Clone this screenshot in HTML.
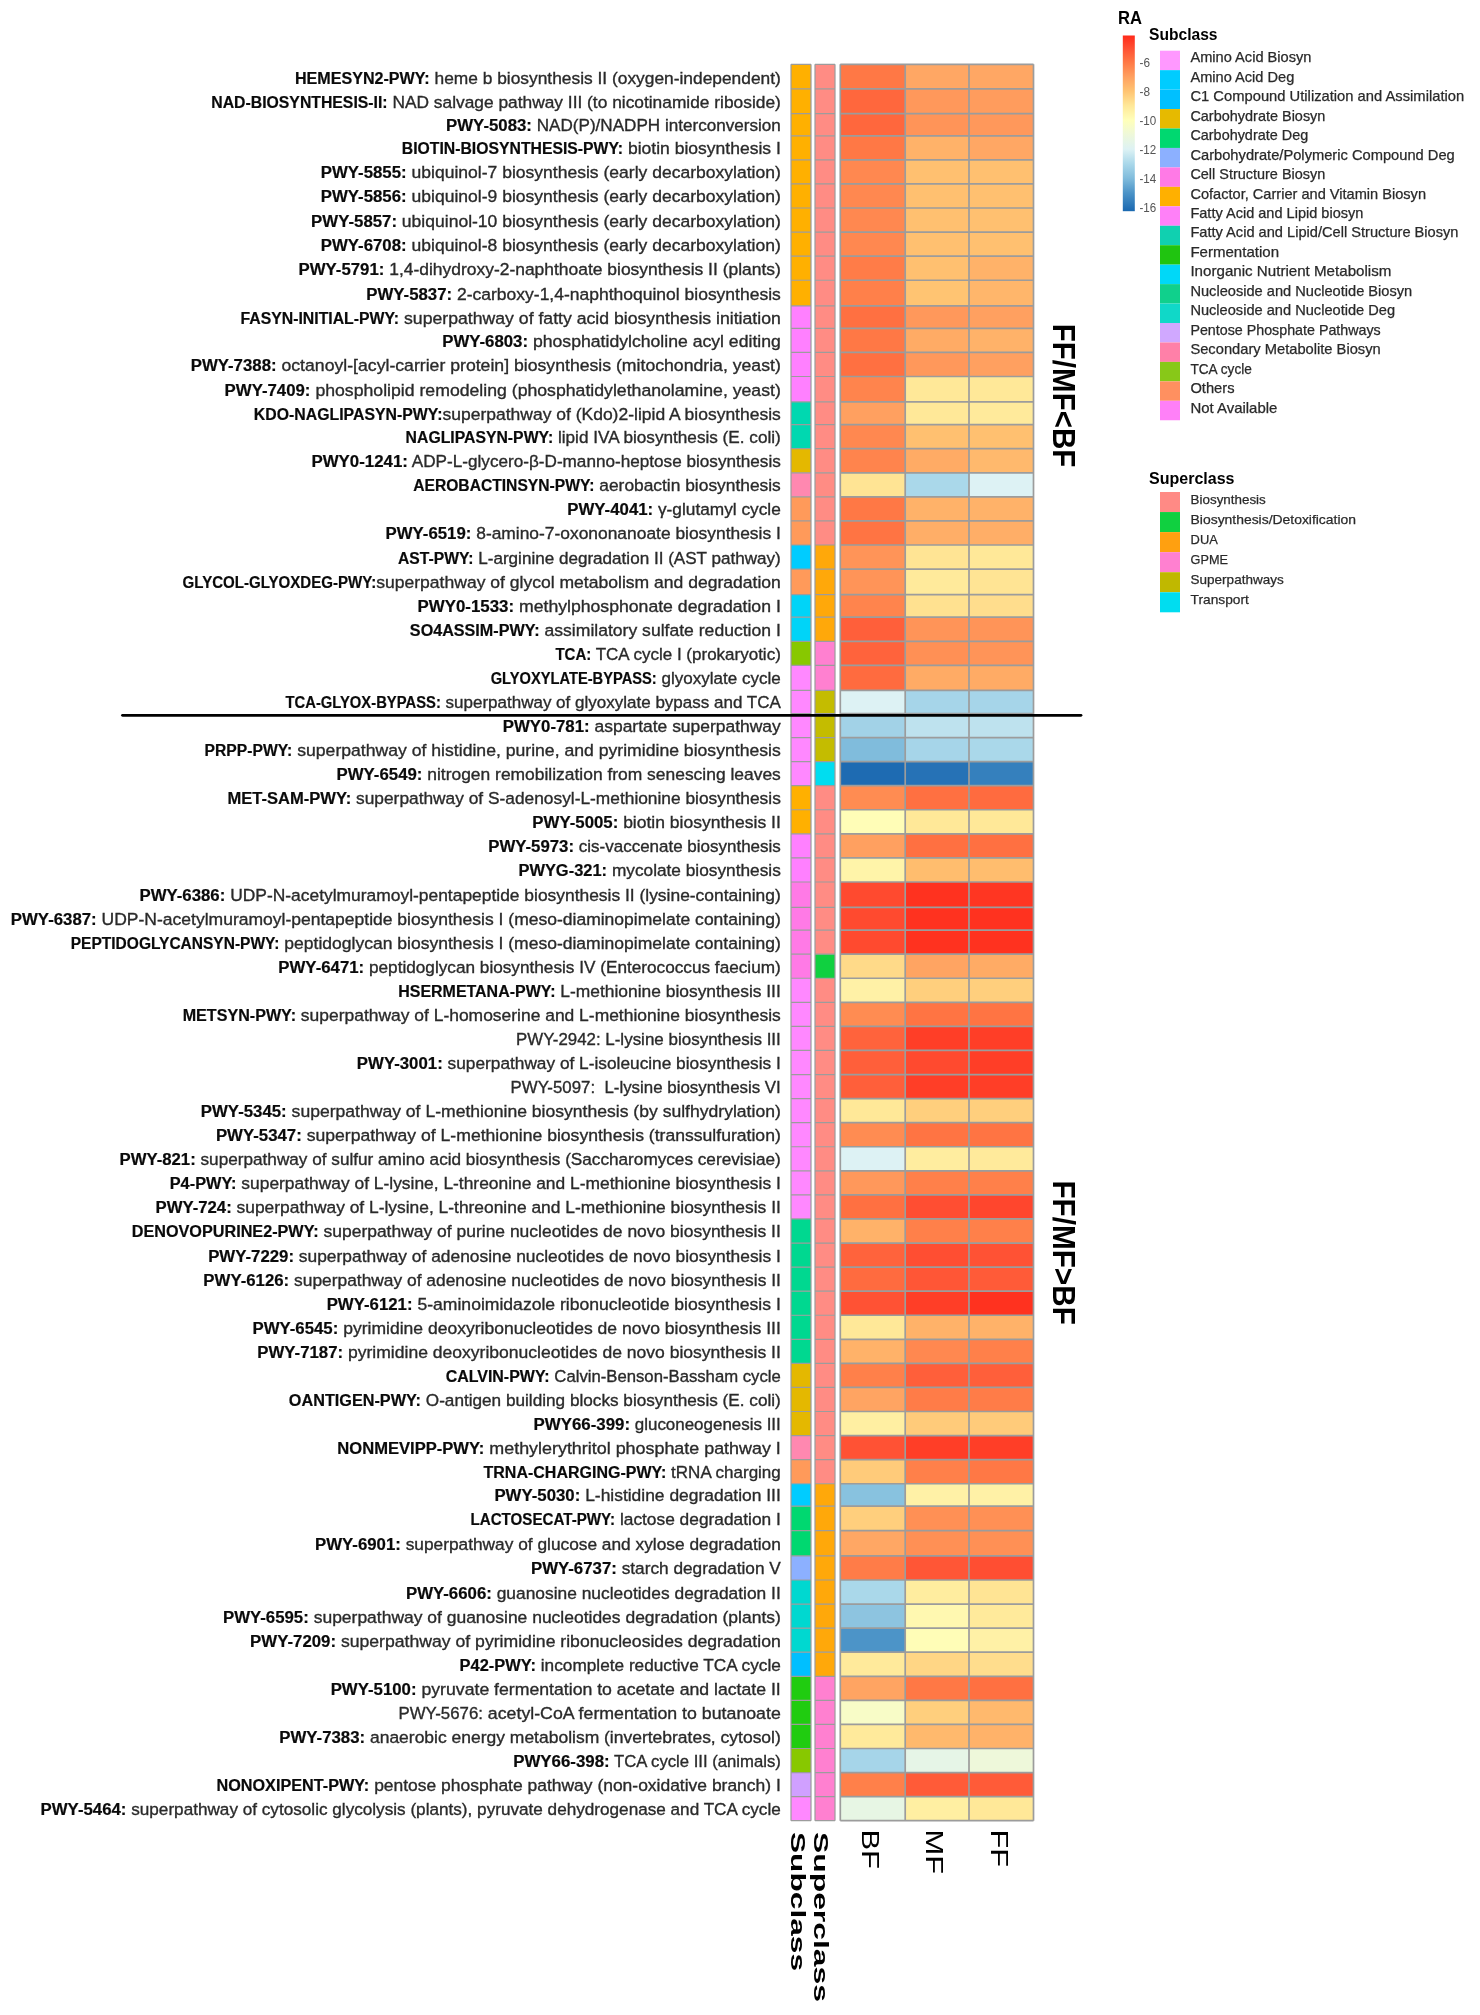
<!DOCTYPE html><html><head><meta charset="utf-8"><style>html,body{margin:0;padding:0;background:#fff}svg{display:block;filter:blur(0.6px)}text{font-family:"Liberation Sans",sans-serif;white-space:pre}</style></head><body>
<svg width="1480" height="2015" viewBox="0 0 1480 2015">
<rect x="0" y="0" width="1480" height="2015" fill="#fff"/>
<g font-size="17.4" fill="#2a2a2a" stroke="#2a2a2a" stroke-width="0.35" text-anchor="end">
<text x="780.8" y="83.99" textLength="351.14" lengthAdjust="spacingAndGlyphs"> heme b biosynthesis II (oxygen-independent)</text>
<text x="429.66" y="83.99" font-weight="bold" fill="#0a0a0a" stroke="#0a0a0a" stroke-width="0.2" textLength="134.74" lengthAdjust="spacingAndGlyphs">HEMESYN2-PWY:</text>
<text x="780.8" y="107.71" textLength="393.19" lengthAdjust="spacingAndGlyphs"> NAD salvage pathway III (to nicotinamide riboside)</text>
<text x="387.61" y="107.71" font-weight="bold" fill="#0a0a0a" stroke="#0a0a0a" stroke-width="0.2" textLength="176.29" lengthAdjust="spacingAndGlyphs">NAD-BIOSYNTHESIS-II:</text>
<text x="780.8" y="131.18" textLength="248.84" lengthAdjust="spacingAndGlyphs"> NAD(P)/NADPH interconversion</text>
<text x="531.96" y="131.18" font-weight="bold" fill="#0a0a0a" stroke="#0a0a0a" stroke-width="0.2" textLength="85.9" lengthAdjust="spacingAndGlyphs">PWY-5083:</text>
<text x="780.8" y="154.34" textLength="157.73" lengthAdjust="spacingAndGlyphs"> biotin biosynthesis I</text>
<text x="623.07" y="154.34" font-weight="bold" fill="#0a0a0a" stroke="#0a0a0a" stroke-width="0.2" textLength="221.25" lengthAdjust="spacingAndGlyphs">BIOTIN-BIOSYNTHESIS-PWY:</text>
<text x="780.8" y="178.41" textLength="374.14" lengthAdjust="spacingAndGlyphs"> ubiquinol-7 biosynthesis (early decarboxylation)</text>
<text x="406.66" y="178.41" font-weight="bold" fill="#0a0a0a" stroke="#0a0a0a" stroke-width="0.2" textLength="85.9" lengthAdjust="spacingAndGlyphs">PWY-5855:</text>
<text x="780.8" y="202.49" textLength="374.14" lengthAdjust="spacingAndGlyphs"> ubiquinol-9 biosynthesis (early decarboxylation)</text>
<text x="406.66" y="202.49" font-weight="bold" fill="#0a0a0a" stroke="#0a0a0a" stroke-width="0.2" textLength="85.9" lengthAdjust="spacingAndGlyphs">PWY-5856:</text>
<text x="780.8" y="226.56" textLength="383.79" lengthAdjust="spacingAndGlyphs"> ubiquinol-10 biosynthesis (early decarboxylation)</text>
<text x="397.01" y="226.56" font-weight="bold" fill="#0a0a0a" stroke="#0a0a0a" stroke-width="0.2" textLength="85.9" lengthAdjust="spacingAndGlyphs">PWY-5857:</text>
<text x="780.8" y="250.62" textLength="374.14" lengthAdjust="spacingAndGlyphs"> ubiquinol-8 biosynthesis (early decarboxylation)</text>
<text x="406.66" y="250.62" font-weight="bold" fill="#0a0a0a" stroke="#0a0a0a" stroke-width="0.2" textLength="85.9" lengthAdjust="spacingAndGlyphs">PWY-6708:</text>
<text x="780.8" y="274.7" textLength="396.4" lengthAdjust="spacingAndGlyphs"> 1,4-dihydroxy-2-naphthoate biosynthesis II (plants)</text>
<text x="384.4" y="274.7" font-weight="bold" fill="#0a0a0a" stroke="#0a0a0a" stroke-width="0.2" textLength="85.9" lengthAdjust="spacingAndGlyphs">PWY-5791:</text>
<text x="780.8" y="299.57" textLength="328.64" lengthAdjust="spacingAndGlyphs"> 2-carboxy-1,4-naphthoquinol biosynthesis</text>
<text x="452.16" y="299.57" font-weight="bold" fill="#0a0a0a" stroke="#0a0a0a" stroke-width="0.2" textLength="85.9" lengthAdjust="spacingAndGlyphs">PWY-5837:</text>
<text x="780.8" y="323.63" textLength="381.67" lengthAdjust="spacingAndGlyphs"> superpathway of fatty acid biosynthesis initiation</text>
<text x="399.13" y="323.63" font-weight="bold" fill="#0a0a0a" stroke="#0a0a0a" stroke-width="0.2" textLength="158.65" lengthAdjust="spacingAndGlyphs">FASYN-INITIAL-PWY:</text>
<text x="780.8" y="346.91" textLength="252.72" lengthAdjust="spacingAndGlyphs"> phosphatidylcholine acyl editing</text>
<text x="528.08" y="346.91" font-weight="bold" fill="#0a0a0a" stroke="#0a0a0a" stroke-width="0.2" textLength="85.9" lengthAdjust="spacingAndGlyphs">PWY-6803:</text>
<text x="780.8" y="370.98" textLength="504.21" lengthAdjust="spacingAndGlyphs"> octanoyl-[acyl-carrier protein] biosynthesis (mitochondria, yeast)</text>
<text x="276.59" y="370.98" font-weight="bold" fill="#0a0a0a" stroke="#0a0a0a" stroke-width="0.2" textLength="85.9" lengthAdjust="spacingAndGlyphs">PWY-7388:</text>
<text x="780.8" y="395.7" textLength="470.31" lengthAdjust="spacingAndGlyphs"> phospholipid remodeling (phosphatidylethanolamine, yeast)</text>
<text x="310.49" y="395.7" font-weight="bold" fill="#0a0a0a" stroke="#0a0a0a" stroke-width="0.2" textLength="85.9" lengthAdjust="spacingAndGlyphs">PWY-7409:</text>
<text x="780.8" y="419.77" textLength="338.3" lengthAdjust="spacingAndGlyphs">superpathway of (Kdo)2-lipid A biosynthesis</text>
<text x="442.5" y="419.77" font-weight="bold" fill="#0a0a0a" stroke="#0a0a0a" stroke-width="0.2" textLength="188.63" lengthAdjust="spacingAndGlyphs">KDO-NAGLIPASYN-PWY:</text>
<text x="780.8" y="443.19" textLength="227.65" lengthAdjust="spacingAndGlyphs"> lipid IVA biosynthesis (E. coli)</text>
<text x="553.15" y="443.19" font-weight="bold" fill="#0a0a0a" stroke="#0a0a0a" stroke-width="0.2" textLength="147.53" lengthAdjust="spacingAndGlyphs">NAGLIPASYN-PWY:</text>
<text x="780.8" y="467.25" textLength="372.83" lengthAdjust="spacingAndGlyphs"> ADP-L-glycero-β-D-manno-heptose biosynthesis</text>
<text x="407.97" y="467.25" font-weight="bold" fill="#0a0a0a" stroke="#0a0a0a" stroke-width="0.2" textLength="96.56" lengthAdjust="spacingAndGlyphs">PWY0-1241:</text>
<text x="780.8" y="491.33" textLength="186.34" lengthAdjust="spacingAndGlyphs"> aerobactin biosynthesis</text>
<text x="594.46" y="491.33" font-weight="bold" fill="#0a0a0a" stroke="#0a0a0a" stroke-width="0.2" textLength="181.28" lengthAdjust="spacingAndGlyphs">AEROBACTINSYN-PWY:</text>
<text x="780.8" y="515.39" textLength="127.63" lengthAdjust="spacingAndGlyphs"> γ-glutamyl cycle</text>
<text x="653.17" y="515.39" font-weight="bold" fill="#0a0a0a" stroke="#0a0a0a" stroke-width="0.2" textLength="85.9" lengthAdjust="spacingAndGlyphs">PWY-4041:</text>
<text x="780.8" y="539.46" textLength="309.41" lengthAdjust="spacingAndGlyphs"> 8-amino-7-oxononanoate biosynthesis I</text>
<text x="471.39" y="539.46" font-weight="bold" fill="#0a0a0a" stroke="#0a0a0a" stroke-width="0.2" textLength="85.9" lengthAdjust="spacingAndGlyphs">PWY-6519:</text>
<text x="780.8" y="563.54" textLength="307.32" lengthAdjust="spacingAndGlyphs"> L-arginine degradation II (AST pathway)</text>
<text x="473.48" y="563.54" font-weight="bold" fill="#0a0a0a" stroke="#0a0a0a" stroke-width="0.2" textLength="75.49" lengthAdjust="spacingAndGlyphs">AST-PWY:</text>
<text x="780.8" y="588.31" textLength="404.54" lengthAdjust="spacingAndGlyphs">superpathway of glycol metabolism and degradation</text>
<text x="376.26" y="588.31" font-weight="bold" fill="#0a0a0a" stroke="#0a0a0a" stroke-width="0.2" textLength="193.65" lengthAdjust="spacingAndGlyphs">GLYCOL-GLYOXDEG-PWY:</text>
<text x="780.8" y="612.38" textLength="266.71" lengthAdjust="spacingAndGlyphs"> methylphosphonate degradation I</text>
<text x="514.09" y="612.38" font-weight="bold" fill="#0a0a0a" stroke="#0a0a0a" stroke-width="0.2" textLength="96.56" lengthAdjust="spacingAndGlyphs">PWY0-1533:</text>
<text x="780.8" y="635.75" textLength="241.17" lengthAdjust="spacingAndGlyphs"> assimilatory sulfate reduction I</text>
<text x="539.63" y="635.75" font-weight="bold" fill="#0a0a0a" stroke="#0a0a0a" stroke-width="0.2" textLength="129.76" lengthAdjust="spacingAndGlyphs">SO4ASSIM-PWY:</text>
<text x="780.8" y="659.82" textLength="189.49" lengthAdjust="spacingAndGlyphs"> TCA cycle I (prokaryotic)</text>
<text x="591.31" y="659.82" font-weight="bold" fill="#0a0a0a" stroke="#0a0a0a" stroke-width="0.2" textLength="35.86" lengthAdjust="spacingAndGlyphs">TCA:</text>
<text x="780.8" y="684.38" textLength="124.09" lengthAdjust="spacingAndGlyphs"> glyoxylate cycle</text>
<text x="656.71" y="684.38" font-weight="bold" fill="#0a0a0a" stroke="#0a0a0a" stroke-width="0.2" textLength="166.02" lengthAdjust="spacingAndGlyphs">GLYOXYLATE-BYPASS:</text>
<text x="780.8" y="708.46" textLength="339.99" lengthAdjust="spacingAndGlyphs"> superpathway of glyoxylate bypass and TCA</text>
<text x="440.81" y="708.46" font-weight="bold" fill="#0a0a0a" stroke="#0a0a0a" stroke-width="0.2" textLength="155.31" lengthAdjust="spacingAndGlyphs">TCA-GLYOX-BYPASS:</text>
<text x="780.8" y="732.03" textLength="191.12" lengthAdjust="spacingAndGlyphs"> aspartate superpathway</text>
<text x="589.68" y="732.03" font-weight="bold" fill="#0a0a0a" stroke="#0a0a0a" stroke-width="0.2" textLength="86.92" lengthAdjust="spacingAndGlyphs">PWY0-781:</text>
<text x="780.8" y="756.1" textLength="488.5" lengthAdjust="spacingAndGlyphs"> superpathway of histidine, purine, and pyrimidine biosynthesis</text>
<text x="292.3" y="756.1" font-weight="bold" fill="#0a0a0a" stroke="#0a0a0a" stroke-width="0.2" textLength="87.71" lengthAdjust="spacingAndGlyphs">PRPP-PWY:</text>
<text x="780.8" y="780.16" textLength="358.36" lengthAdjust="spacingAndGlyphs"> nitrogen remobilization from senescing leaves</text>
<text x="422.44" y="780.16" font-weight="bold" fill="#0a0a0a" stroke="#0a0a0a" stroke-width="0.2" textLength="85.9" lengthAdjust="spacingAndGlyphs">PWY-6549:</text>
<text x="780.8" y="804.24" textLength="429.58" lengthAdjust="spacingAndGlyphs"> superpathway of S-adenosyl-L-methionine biosynthesis</text>
<text x="351.22" y="804.24" font-weight="bold" fill="#0a0a0a" stroke="#0a0a0a" stroke-width="0.2" textLength="123.82" lengthAdjust="spacingAndGlyphs">MET-SAM-PWY:</text>
<text x="780.8" y="828.31" textLength="162.53" lengthAdjust="spacingAndGlyphs"> biotin biosynthesis II</text>
<text x="618.27" y="828.31" font-weight="bold" fill="#0a0a0a" stroke="#0a0a0a" stroke-width="0.2" textLength="85.9" lengthAdjust="spacingAndGlyphs">PWY-5005:</text>
<text x="780.8" y="852.38" textLength="206.72" lengthAdjust="spacingAndGlyphs"> cis-vaccenate biosynthesis</text>
<text x="574.08" y="852.38" font-weight="bold" fill="#0a0a0a" stroke="#0a0a0a" stroke-width="0.2" textLength="85.9" lengthAdjust="spacingAndGlyphs">PWY-5973:</text>
<text x="780.8" y="876.45" textLength="173.72" lengthAdjust="spacingAndGlyphs"> mycolate biosynthesis</text>
<text x="607.08" y="876.45" font-weight="bold" fill="#0a0a0a" stroke="#0a0a0a" stroke-width="0.2" textLength="88.66" lengthAdjust="spacingAndGlyphs">PWYG-321:</text>
<text x="780.8" y="901.22" textLength="555.47" lengthAdjust="spacingAndGlyphs"> UDP-N-acetylmuramoyl-pentapeptide biosynthesis II (lysine-containing)</text>
<text x="225.33" y="901.22" font-weight="bold" fill="#0a0a0a" stroke="#0a0a0a" stroke-width="0.2" textLength="85.9" lengthAdjust="spacingAndGlyphs">PWY-6386:</text>
<text x="780.8" y="925.29" textLength="684.1" lengthAdjust="spacingAndGlyphs"> UDP-N-acetylmuramoyl-pentapeptide biosynthesis I (meso-diaminopimelate containing)</text>
<text x="96.7" y="925.29" font-weight="bold" fill="#0a0a0a" stroke="#0a0a0a" stroke-width="0.2" textLength="85.9" lengthAdjust="spacingAndGlyphs">PWY-6387:</text>
<text x="780.8" y="948.65" textLength="501.32" lengthAdjust="spacingAndGlyphs"> peptidoglycan biosynthesis I (meso-diaminopimelate containing)</text>
<text x="279.48" y="948.65" font-weight="bold" fill="#0a0a0a" stroke="#0a0a0a" stroke-width="0.2" textLength="208.71" lengthAdjust="spacingAndGlyphs">PEPTIDOGLYCANSYN-PWY:</text>
<text x="780.8" y="972.73" textLength="416.6" lengthAdjust="spacingAndGlyphs"> peptidoglycan biosynthesis IV (Enterococcus faecium)</text>
<text x="364.2" y="972.73" font-weight="bold" fill="#0a0a0a" stroke="#0a0a0a" stroke-width="0.2" textLength="85.9" lengthAdjust="spacingAndGlyphs">PWY-6471:</text>
<text x="780.8" y="996.8" textLength="225.32" lengthAdjust="spacingAndGlyphs"> L-methionine biosynthesis III</text>
<text x="555.48" y="996.8" font-weight="bold" fill="#0a0a0a" stroke="#0a0a0a" stroke-width="0.2" textLength="157.23" lengthAdjust="spacingAndGlyphs">HSERMETANA-PWY:</text>
<text x="780.8" y="1020.87" textLength="484.77" lengthAdjust="spacingAndGlyphs"> superpathway of L-homoserine and L-methionine biosynthesis</text>
<text x="296.03" y="1020.87" font-weight="bold" fill="#0a0a0a" stroke="#0a0a0a" stroke-width="0.2" textLength="113.33" lengthAdjust="spacingAndGlyphs">METSYN-PWY:</text>
<text x="780.8" y="1044.93" textLength="180.23" lengthAdjust="spacingAndGlyphs"> L-lysine biosynthesis III</text>
<text x="600.57" y="1044.93" textLength="84.45" lengthAdjust="spacingAndGlyphs">PWY-2942:</text>
<text x="780.8" y="1069.01" textLength="338.05" lengthAdjust="spacingAndGlyphs"> superpathway of L-isoleucine biosynthesis I</text>
<text x="442.75" y="1069.01" font-weight="bold" fill="#0a0a0a" stroke="#0a0a0a" stroke-width="0.2" textLength="85.9" lengthAdjust="spacingAndGlyphs">PWY-3001:</text>
<text x="780.8" y="1093.07" textLength="185.74" lengthAdjust="spacingAndGlyphs">  L-lysine biosynthesis VI</text>
<text x="595.06" y="1093.07" textLength="84.45" lengthAdjust="spacingAndGlyphs">PWY-5097:</text>
<text x="780.8" y="1117.14" textLength="494.08" lengthAdjust="spacingAndGlyphs"> superpathway of L-methionine biosynthesis (by sulfhydrylation)</text>
<text x="286.72" y="1117.14" font-weight="bold" fill="#0a0a0a" stroke="#0a0a0a" stroke-width="0.2" textLength="85.9" lengthAdjust="spacingAndGlyphs">PWY-5345:</text>
<text x="780.8" y="1141.21" textLength="479.02" lengthAdjust="spacingAndGlyphs"> superpathway of L-methionine biosynthesis (transsulfuration)</text>
<text x="301.78" y="1141.21" font-weight="bold" fill="#0a0a0a" stroke="#0a0a0a" stroke-width="0.2" textLength="85.9" lengthAdjust="spacingAndGlyphs">PWY-5347:</text>
<text x="780.8" y="1165.28" textLength="585.05" lengthAdjust="spacingAndGlyphs"> superpathway of sulfur amino acid biosynthesis (Saccharomyces cerevisiae)</text>
<text x="195.75" y="1165.28" font-weight="bold" fill="#0a0a0a" stroke="#0a0a0a" stroke-width="0.2" textLength="76.25" lengthAdjust="spacingAndGlyphs">PWY-821:</text>
<text x="780.8" y="1189.36" textLength="544.26" lengthAdjust="spacingAndGlyphs"> superpathway of L-lysine, L-threonine and L-methionine biosynthesis I</text>
<text x="236.54" y="1189.36" font-weight="bold" fill="#0a0a0a" stroke="#0a0a0a" stroke-width="0.2" textLength="66.8" lengthAdjust="spacingAndGlyphs">P4-PWY:</text>
<text x="780.8" y="1213.42" textLength="549.06" lengthAdjust="spacingAndGlyphs"> superpathway of L-lysine, L-threonine and L-methionine biosynthesis II</text>
<text x="231.74" y="1213.42" font-weight="bold" fill="#0a0a0a" stroke="#0a0a0a" stroke-width="0.2" textLength="76.25" lengthAdjust="spacingAndGlyphs">PWY-724:</text>
<text x="780.8" y="1237.49" textLength="462.13" lengthAdjust="spacingAndGlyphs"> superpathway of purine nucleotides de novo biosynthesis II</text>
<text x="318.67" y="1237.49" font-weight="bold" fill="#0a0a0a" stroke="#0a0a0a" stroke-width="0.2" textLength="186.94" lengthAdjust="spacingAndGlyphs">DENOVOPURINE2-PWY:</text>
<text x="780.8" y="1261.57" textLength="486.76" lengthAdjust="spacingAndGlyphs"> superpathway of adenosine nucleotides de novo biosynthesis I</text>
<text x="294.04" y="1261.57" font-weight="bold" fill="#0a0a0a" stroke="#0a0a0a" stroke-width="0.2" textLength="85.9" lengthAdjust="spacingAndGlyphs">PWY-7229:</text>
<text x="780.8" y="1285.63" textLength="491.56" lengthAdjust="spacingAndGlyphs"> superpathway of adenosine nucleotides de novo biosynthesis II</text>
<text x="289.24" y="1285.63" font-weight="bold" fill="#0a0a0a" stroke="#0a0a0a" stroke-width="0.2" textLength="85.9" lengthAdjust="spacingAndGlyphs">PWY-6126:</text>
<text x="780.8" y="1309.7" textLength="368.26" lengthAdjust="spacingAndGlyphs"> 5-aminoimidazole ribonucleotide biosynthesis I</text>
<text x="412.54" y="1309.7" font-weight="bold" fill="#0a0a0a" stroke="#0a0a0a" stroke-width="0.2" textLength="85.9" lengthAdjust="spacingAndGlyphs">PWY-6121:</text>
<text x="780.8" y="1333.78" textLength="442.47" lengthAdjust="spacingAndGlyphs"> pyrimidine deoxyribonucleotides de novo biosynthesis III</text>
<text x="338.33" y="1333.78" font-weight="bold" fill="#0a0a0a" stroke="#0a0a0a" stroke-width="0.2" textLength="85.9" lengthAdjust="spacingAndGlyphs">PWY-6545:</text>
<text x="780.8" y="1357.84" textLength="437.67" lengthAdjust="spacingAndGlyphs"> pyrimidine deoxyribonucleotides de novo biosynthesis II</text>
<text x="343.13" y="1357.84" font-weight="bold" fill="#0a0a0a" stroke="#0a0a0a" stroke-width="0.2" textLength="85.9" lengthAdjust="spacingAndGlyphs">PWY-7187:</text>
<text x="780.8" y="1381.91" textLength="231.11" lengthAdjust="spacingAndGlyphs"> Calvin-Benson-Bassham cycle</text>
<text x="549.69" y="1381.91" font-weight="bold" fill="#0a0a0a" stroke="#0a0a0a" stroke-width="0.2" textLength="104.05" lengthAdjust="spacingAndGlyphs">CALVIN-PWY:</text>
<text x="780.8" y="1405.98" textLength="359.79" lengthAdjust="spacingAndGlyphs"> O-antigen building blocks biosynthesis (E. coli)</text>
<text x="421.01" y="1405.98" font-weight="bold" fill="#0a0a0a" stroke="#0a0a0a" stroke-width="0.2" textLength="132.14" lengthAdjust="spacingAndGlyphs">OANTIGEN-PWY:</text>
<text x="780.8" y="1430.05" textLength="150.73" lengthAdjust="spacingAndGlyphs"> gluconeogenesis III</text>
<text x="630.07" y="1430.05" font-weight="bold" fill="#0a0a0a" stroke="#0a0a0a" stroke-width="0.2" textLength="96.56" lengthAdjust="spacingAndGlyphs">PWY66-399:</text>
<text x="780.8" y="1454.12" textLength="296.43" lengthAdjust="spacingAndGlyphs"> methylerythritol phosphate pathway I</text>
<text x="484.37" y="1454.12" font-weight="bold" fill="#0a0a0a" stroke="#0a0a0a" stroke-width="0.2" textLength="147.05" lengthAdjust="spacingAndGlyphs">NONMEVIPP-PWY:</text>
<text x="780.8" y="1478.19" textLength="114.42" lengthAdjust="spacingAndGlyphs"> tRNA charging</text>
<text x="666.38" y="1478.19" font-weight="bold" fill="#0a0a0a" stroke="#0a0a0a" stroke-width="0.2" textLength="182.86" lengthAdjust="spacingAndGlyphs">TRNA-CHARGING-PWY:</text>
<text x="780.8" y="1501.47" textLength="200.5" lengthAdjust="spacingAndGlyphs"> L-histidine degradation III</text>
<text x="580.3" y="1501.47" font-weight="bold" fill="#0a0a0a" stroke="#0a0a0a" stroke-width="0.2" textLength="85.9" lengthAdjust="spacingAndGlyphs">PWY-5030:</text>
<text x="780.8" y="1524.88" textLength="165.72" lengthAdjust="spacingAndGlyphs"> lactose degradation I</text>
<text x="615.08" y="1524.88" font-weight="bold" fill="#0a0a0a" stroke="#0a0a0a" stroke-width="0.2" textLength="144.57" lengthAdjust="spacingAndGlyphs">LACTOSECAT-PWY:</text>
<text x="780.8" y="1549.75" textLength="379.94" lengthAdjust="spacingAndGlyphs"> superpathway of glucose and xylose degradation</text>
<text x="400.86" y="1549.75" font-weight="bold" fill="#0a0a0a" stroke="#0a0a0a" stroke-width="0.2" textLength="85.9" lengthAdjust="spacingAndGlyphs">PWY-6901:</text>
<text x="780.8" y="1574.47" textLength="163.95" lengthAdjust="spacingAndGlyphs"> starch degradation V</text>
<text x="616.85" y="1574.47" font-weight="bold" fill="#0a0a0a" stroke="#0a0a0a" stroke-width="0.2" textLength="85.9" lengthAdjust="spacingAndGlyphs">PWY-6737:</text>
<text x="780.8" y="1598.55" textLength="288.96" lengthAdjust="spacingAndGlyphs"> guanosine nucleotides degradation II</text>
<text x="491.84" y="1598.55" font-weight="bold" fill="#0a0a0a" stroke="#0a0a0a" stroke-width="0.2" textLength="85.9" lengthAdjust="spacingAndGlyphs">PWY-6606:</text>
<text x="780.8" y="1622.61" textLength="471.97" lengthAdjust="spacingAndGlyphs"> superpathway of guanosine nucleotides degradation (plants)</text>
<text x="308.83" y="1622.61" font-weight="bold" fill="#0a0a0a" stroke="#0a0a0a" stroke-width="0.2" textLength="85.9" lengthAdjust="spacingAndGlyphs">PWY-6595:</text>
<text x="780.8" y="1646.68" textLength="444.79" lengthAdjust="spacingAndGlyphs"> superpathway of pyrimidine ribonucleosides degradation</text>
<text x="336.01" y="1646.68" font-weight="bold" fill="#0a0a0a" stroke="#0a0a0a" stroke-width="0.2" textLength="85.9" lengthAdjust="spacingAndGlyphs">PWY-7209:</text>
<text x="780.8" y="1670.76" textLength="244.79" lengthAdjust="spacingAndGlyphs"> incomplete reductive TCA cycle</text>
<text x="536.01" y="1670.76" font-weight="bold" fill="#0a0a0a" stroke="#0a0a0a" stroke-width="0.2" textLength="76.45" lengthAdjust="spacingAndGlyphs">P42-PWY:</text>
<text x="780.8" y="1694.82" textLength="364.23" lengthAdjust="spacingAndGlyphs"> pyruvate fermentation to acetate and lactate II</text>
<text x="416.57" y="1694.82" font-weight="bold" fill="#0a0a0a" stroke="#0a0a0a" stroke-width="0.2" textLength="85.9" lengthAdjust="spacingAndGlyphs">PWY-5100:</text>
<text x="780.8" y="1718.89" textLength="297.85" lengthAdjust="spacingAndGlyphs"> acetyl-CoA fermentation to butanoate</text>
<text x="482.95" y="1718.89" textLength="84.45" lengthAdjust="spacingAndGlyphs">PWY-5676:</text>
<text x="780.8" y="1742.96" textLength="415.68" lengthAdjust="spacingAndGlyphs"> anaerobic energy metabolism (invertebrates, cytosol)</text>
<text x="365.12" y="1742.96" font-weight="bold" fill="#0a0a0a" stroke="#0a0a0a" stroke-width="0.2" textLength="85.9" lengthAdjust="spacingAndGlyphs">PWY-7383:</text>
<text x="780.8" y="1767.03" textLength="171.09" lengthAdjust="spacingAndGlyphs"> TCA cycle III (animals)</text>
<text x="609.71" y="1767.03" font-weight="bold" fill="#0a0a0a" stroke="#0a0a0a" stroke-width="0.2" textLength="96.56" lengthAdjust="spacingAndGlyphs">PWY66-398:</text>
<text x="780.8" y="1791.11" textLength="411.51" lengthAdjust="spacingAndGlyphs"> pentose phosphate pathway (non-oxidative branch) I</text>
<text x="369.29" y="1791.11" font-weight="bold" fill="#0a0a0a" stroke="#0a0a0a" stroke-width="0.2" textLength="152.81" lengthAdjust="spacingAndGlyphs">NONOXIPENT-PWY:</text>
<text x="780.8" y="1815.17" textLength="654.33" lengthAdjust="spacingAndGlyphs"> superpathway of cytosolic glycolysis (plants), pyruvate dehydrogenase and TCA cycle</text>
<text x="126.47" y="1815.17" font-weight="bold" fill="#0a0a0a" stroke="#0a0a0a" stroke-width="0.2" textLength="85.9" lengthAdjust="spacingAndGlyphs">PWY-5464:</text>
</g>
<g shape-rendering="auto">
<rect x="791" y="64.3" width="20" height="24.57" fill="#FFB000"/>
<rect x="815" y="64.3" width="20" height="24.57" fill="#FF8C84"/>
<rect x="840.3" y="64.3" width="64.9" height="24.57" fill="#FF7845"/>
<rect x="905.2" y="64.3" width="63.8" height="24.57" fill="#FFA764"/>
<rect x="969" y="64.3" width="64.5" height="24.57" fill="#FFA764"/>
<rect x="791" y="88.87" width="20" height="24.67" fill="#FFB000"/>
<rect x="815" y="88.87" width="20" height="24.67" fill="#FF8C84"/>
<rect x="840.3" y="88.87" width="64.9" height="24.67" fill="#FF673D"/>
<rect x="905.2" y="88.87" width="63.8" height="24.67" fill="#FF985B"/>
<rect x="969" y="88.87" width="64.5" height="24.67" fill="#FF9C5D"/>
<rect x="791" y="113.54" width="20" height="22.27" fill="#FFB000"/>
<rect x="815" y="113.54" width="20" height="22.27" fill="#FF8C84"/>
<rect x="840.3" y="113.54" width="64.9" height="22.27" fill="#FF673D"/>
<rect x="905.2" y="113.54" width="63.8" height="22.27" fill="#FF9458"/>
<rect x="969" y="113.54" width="64.5" height="22.27" fill="#FF985B"/>
<rect x="791" y="135.81" width="20" height="24.07" fill="#FFB000"/>
<rect x="815" y="135.81" width="20" height="24.07" fill="#FF8C84"/>
<rect x="840.3" y="135.81" width="64.9" height="24.07" fill="#FF7845"/>
<rect x="905.2" y="135.81" width="63.8" height="24.07" fill="#FFB269"/>
<rect x="969" y="135.81" width="64.5" height="24.07" fill="#FFA764"/>
<rect x="791" y="159.88" width="20" height="24.07" fill="#FFB000"/>
<rect x="815" y="159.88" width="20" height="24.07" fill="#FF8C84"/>
<rect x="840.3" y="159.88" width="64.9" height="24.07" fill="#FF8850"/>
<rect x="905.2" y="159.88" width="63.8" height="24.07" fill="#FFC070"/>
<rect x="969" y="159.88" width="64.5" height="24.07" fill="#FFC070"/>
<rect x="791" y="183.95" width="20" height="24.07" fill="#FFB000"/>
<rect x="815" y="183.95" width="20" height="24.07" fill="#FF8C84"/>
<rect x="840.3" y="183.95" width="64.9" height="24.07" fill="#FF8850"/>
<rect x="905.2" y="183.95" width="63.8" height="24.07" fill="#FFC070"/>
<rect x="969" y="183.95" width="64.5" height="24.07" fill="#FFC070"/>
<rect x="791" y="208.02" width="20" height="24.07" fill="#FFB000"/>
<rect x="815" y="208.02" width="20" height="24.07" fill="#FF8C84"/>
<rect x="840.3" y="208.02" width="64.9" height="24.07" fill="#FF8850"/>
<rect x="905.2" y="208.02" width="63.8" height="24.07" fill="#FFC070"/>
<rect x="969" y="208.02" width="64.5" height="24.07" fill="#FFC070"/>
<rect x="791" y="232.09" width="20" height="24.07" fill="#FFB000"/>
<rect x="815" y="232.09" width="20" height="24.07" fill="#FF8C84"/>
<rect x="840.3" y="232.09" width="64.9" height="24.07" fill="#FF8850"/>
<rect x="905.2" y="232.09" width="63.8" height="24.07" fill="#FFC070"/>
<rect x="969" y="232.09" width="64.5" height="24.07" fill="#FFC070"/>
<rect x="791" y="256.16" width="20" height="24.07" fill="#FFB000"/>
<rect x="815" y="256.16" width="20" height="24.07" fill="#FF8C84"/>
<rect x="840.3" y="256.16" width="64.9" height="24.07" fill="#FF7C48"/>
<rect x="905.2" y="256.16" width="63.8" height="24.07" fill="#FFC070"/>
<rect x="969" y="256.16" width="64.5" height="24.07" fill="#FFB269"/>
<rect x="791" y="280.23" width="20" height="25.67" fill="#FFB000"/>
<rect x="815" y="280.23" width="20" height="25.67" fill="#FF8C84"/>
<rect x="840.3" y="280.23" width="64.9" height="25.67" fill="#FF804A"/>
<rect x="905.2" y="280.23" width="63.8" height="25.67" fill="#FFC472"/>
<rect x="969" y="280.23" width="64.5" height="25.67" fill="#FFB66B"/>
<rect x="791" y="305.9" width="20" height="22.47" fill="#FF80FF"/>
<rect x="815" y="305.9" width="20" height="22.47" fill="#FF8C84"/>
<rect x="840.3" y="305.9" width="64.9" height="22.47" fill="#FF7041"/>
<rect x="905.2" y="305.9" width="63.8" height="22.47" fill="#FF985B"/>
<rect x="969" y="305.9" width="64.5" height="22.47" fill="#FFA060"/>
<rect x="791" y="328.37" width="20" height="24.07" fill="#FF80FF"/>
<rect x="815" y="328.37" width="20" height="24.07" fill="#FF8C84"/>
<rect x="840.3" y="328.37" width="64.9" height="24.07" fill="#FF7845"/>
<rect x="905.2" y="328.37" width="63.8" height="24.07" fill="#FFAB65"/>
<rect x="969" y="328.37" width="64.5" height="24.07" fill="#FFB269"/>
<rect x="791" y="352.44" width="20" height="24.07" fill="#FF80FF"/>
<rect x="815" y="352.44" width="20" height="24.07" fill="#FF8C84"/>
<rect x="840.3" y="352.44" width="64.9" height="24.07" fill="#FF7041"/>
<rect x="905.2" y="352.44" width="63.8" height="24.07" fill="#FF985B"/>
<rect x="969" y="352.44" width="64.5" height="24.07" fill="#FFA060"/>
<rect x="791" y="376.51" width="20" height="25.37" fill="#FF80FF"/>
<rect x="815" y="376.51" width="20" height="25.37" fill="#FF8C84"/>
<rect x="840.3" y="376.51" width="64.9" height="25.37" fill="#FF844D"/>
<rect x="905.2" y="376.51" width="63.8" height="25.37" fill="#FFE898"/>
<rect x="969" y="376.51" width="64.5" height="25.37" fill="#FFE898"/>
<rect x="791" y="401.88" width="20" height="22.77" fill="#00D8B0"/>
<rect x="815" y="401.88" width="20" height="22.77" fill="#FF8C84"/>
<rect x="840.3" y="401.88" width="64.9" height="22.77" fill="#FFA060"/>
<rect x="905.2" y="401.88" width="63.8" height="22.77" fill="#FFE898"/>
<rect x="969" y="401.88" width="64.5" height="22.77" fill="#FFEA9B"/>
<rect x="791" y="424.65" width="20" height="24.07" fill="#00D8B0"/>
<rect x="815" y="424.65" width="20" height="24.07" fill="#FF8C84"/>
<rect x="840.3" y="424.65" width="64.9" height="24.07" fill="#FF8850"/>
<rect x="905.2" y="424.65" width="63.8" height="24.07" fill="#FFC070"/>
<rect x="969" y="424.65" width="64.5" height="24.07" fill="#FFC070"/>
<rect x="791" y="448.72" width="20" height="24.07" fill="#E4B800"/>
<rect x="815" y="448.72" width="20" height="24.07" fill="#FF8C84"/>
<rect x="840.3" y="448.72" width="64.9" height="24.07" fill="#FF844D"/>
<rect x="905.2" y="448.72" width="63.8" height="24.07" fill="#FFAB65"/>
<rect x="969" y="448.72" width="64.5" height="24.07" fill="#FFB96D"/>
<rect x="791" y="472.79" width="20" height="24.07" fill="#FF88B0"/>
<rect x="815" y="472.79" width="20" height="24.07" fill="#FF8C84"/>
<rect x="840.3" y="472.79" width="64.9" height="24.07" fill="#FFE494"/>
<rect x="905.2" y="472.79" width="63.8" height="24.07" fill="#AAD8EA"/>
<rect x="969" y="472.79" width="64.5" height="24.07" fill="#DDF2F4"/>
<rect x="791" y="496.86" width="20" height="24.07" fill="#FF9A5A"/>
<rect x="815" y="496.86" width="20" height="24.07" fill="#FF8C84"/>
<rect x="840.3" y="496.86" width="64.9" height="24.07" fill="#FF7845"/>
<rect x="905.2" y="496.86" width="63.8" height="24.07" fill="#FFB269"/>
<rect x="969" y="496.86" width="64.5" height="24.07" fill="#FFB269"/>
<rect x="791" y="520.93" width="20" height="24.07" fill="#FF9A5A"/>
<rect x="815" y="520.93" width="20" height="24.07" fill="#FF8C84"/>
<rect x="840.3" y="520.93" width="64.9" height="24.07" fill="#FF7443"/>
<rect x="905.2" y="520.93" width="63.8" height="24.07" fill="#FFAE67"/>
<rect x="969" y="520.93" width="64.5" height="24.07" fill="#FFAE67"/>
<rect x="791" y="545" width="20" height="24.07" fill="#00CCFF"/>
<rect x="815" y="545" width="20" height="24.07" fill="#FFA80A"/>
<rect x="840.3" y="545" width="64.9" height="24.07" fill="#FF9458"/>
<rect x="905.2" y="545" width="63.8" height="24.07" fill="#FFE494"/>
<rect x="969" y="545" width="64.5" height="24.07" fill="#FFE898"/>
<rect x="791" y="569.07" width="20" height="25.47" fill="#FF9A5A"/>
<rect x="815" y="569.07" width="20" height="25.47" fill="#FFA80A"/>
<rect x="840.3" y="569.07" width="64.9" height="25.47" fill="#FF9458"/>
<rect x="905.2" y="569.07" width="63.8" height="25.47" fill="#FFEA9B"/>
<rect x="969" y="569.07" width="64.5" height="25.47" fill="#FFE494"/>
<rect x="791" y="594.54" width="20" height="22.67" fill="#00D4F8"/>
<rect x="815" y="594.54" width="20" height="22.67" fill="#FFA80A"/>
<rect x="840.3" y="594.54" width="64.9" height="22.67" fill="#FF844D"/>
<rect x="905.2" y="594.54" width="63.8" height="22.67" fill="#FFE190"/>
<rect x="969" y="594.54" width="64.5" height="22.67" fill="#FFDD8D"/>
<rect x="791" y="617.21" width="20" height="24.07" fill="#00D4F8"/>
<rect x="815" y="617.21" width="20" height="24.07" fill="#FFA80A"/>
<rect x="840.3" y="617.21" width="64.9" height="24.07" fill="#FF5F3A"/>
<rect x="905.2" y="617.21" width="63.8" height="24.07" fill="#FF9458"/>
<rect x="969" y="617.21" width="64.5" height="24.07" fill="#FF9458"/>
<rect x="791" y="641.28" width="20" height="24.07" fill="#88C800"/>
<rect x="815" y="641.28" width="20" height="24.07" fill="#FF80D0"/>
<rect x="840.3" y="641.28" width="64.9" height="24.07" fill="#FF633C"/>
<rect x="905.2" y="641.28" width="63.8" height="24.07" fill="#FF9055"/>
<rect x="969" y="641.28" width="64.5" height="24.07" fill="#FF9458"/>
<rect x="791" y="665.35" width="20" height="25.07" fill="#FF88FF"/>
<rect x="815" y="665.35" width="20" height="25.07" fill="#FF80D0"/>
<rect x="840.3" y="665.35" width="64.9" height="25.07" fill="#FF6B3F"/>
<rect x="905.2" y="665.35" width="63.8" height="25.07" fill="#FFAB65"/>
<rect x="969" y="665.35" width="64.5" height="25.07" fill="#FFAB65"/>
<rect x="791" y="690.42" width="20" height="23.07" fill="#FF88FF"/>
<rect x="815" y="690.42" width="20" height="23.07" fill="#C4BC00"/>
<rect x="840.3" y="690.42" width="64.9" height="23.07" fill="#DDF2F4"/>
<rect x="905.2" y="690.42" width="63.8" height="23.07" fill="#A6D5E9"/>
<rect x="969" y="690.42" width="64.5" height="23.07" fill="#A6D5E9"/>
<rect x="791" y="713.49" width="20" height="24.07" fill="#FF88FF"/>
<rect x="815" y="713.49" width="20" height="24.07" fill="#C4BC00"/>
<rect x="840.3" y="713.49" width="64.9" height="24.07" fill="#A2D2E7"/>
<rect x="905.2" y="713.49" width="63.8" height="24.07" fill="#BEE2EE"/>
<rect x="969" y="713.49" width="64.5" height="24.07" fill="#BEE2EE"/>
<rect x="791" y="737.56" width="20" height="24.07" fill="#FF88FF"/>
<rect x="815" y="737.56" width="20" height="24.07" fill="#C4BC00"/>
<rect x="840.3" y="737.56" width="64.9" height="24.07" fill="#80BCDC"/>
<rect x="905.2" y="737.56" width="63.8" height="24.07" fill="#A6D5E9"/>
<rect x="969" y="737.56" width="64.5" height="24.07" fill="#AAD8EA"/>
<rect x="791" y="761.63" width="20" height="24.07" fill="#FF88FF"/>
<rect x="815" y="761.63" width="20" height="24.07" fill="#00DDF0"/>
<rect x="840.3" y="761.63" width="64.9" height="24.07" fill="#1E6BB2"/>
<rect x="905.2" y="761.63" width="63.8" height="24.07" fill="#2672B6"/>
<rect x="969" y="761.63" width="64.5" height="24.07" fill="#3580BD"/>
<rect x="791" y="785.7" width="20" height="24.07" fill="#FFB000"/>
<rect x="815" y="785.7" width="20" height="24.07" fill="#FF8C84"/>
<rect x="840.3" y="785.7" width="64.9" height="24.07" fill="#FF8C52"/>
<rect x="905.2" y="785.7" width="63.8" height="24.07" fill="#FF7041"/>
<rect x="969" y="785.7" width="64.5" height="24.07" fill="#FF6B3F"/>
<rect x="791" y="809.77" width="20" height="24.07" fill="#FFB000"/>
<rect x="815" y="809.77" width="20" height="24.07" fill="#FF8C84"/>
<rect x="840.3" y="809.77" width="64.9" height="24.07" fill="#FFFDB7"/>
<rect x="905.2" y="809.77" width="63.8" height="24.07" fill="#FFE898"/>
<rect x="969" y="809.77" width="64.5" height="24.07" fill="#FFE898"/>
<rect x="791" y="833.84" width="20" height="24.07" fill="#FF80FF"/>
<rect x="815" y="833.84" width="20" height="24.07" fill="#FF8C84"/>
<rect x="840.3" y="833.84" width="64.9" height="24.07" fill="#FFA060"/>
<rect x="905.2" y="833.84" width="63.8" height="24.07" fill="#FF7041"/>
<rect x="969" y="833.84" width="64.5" height="24.07" fill="#FF7041"/>
<rect x="791" y="857.91" width="20" height="24.07" fill="#FF80FF"/>
<rect x="815" y="857.91" width="20" height="24.07" fill="#FF8C84"/>
<rect x="840.3" y="857.91" width="64.9" height="24.07" fill="#FFF4A9"/>
<rect x="905.2" y="857.91" width="63.8" height="24.07" fill="#FFBD6E"/>
<rect x="969" y="857.91" width="64.5" height="24.07" fill="#FFBD6E"/>
<rect x="791" y="881.98" width="20" height="25.47" fill="#FF7AE6"/>
<rect x="815" y="881.98" width="20" height="25.47" fill="#FF8C84"/>
<rect x="840.3" y="881.98" width="64.9" height="25.47" fill="#FF4A2F"/>
<rect x="905.2" y="881.98" width="63.8" height="25.47" fill="#FF321F"/>
<rect x="969" y="881.98" width="64.5" height="25.47" fill="#FF3622"/>
<rect x="791" y="907.45" width="20" height="22.67" fill="#FF7AE6"/>
<rect x="815" y="907.45" width="20" height="22.67" fill="#FF8C84"/>
<rect x="840.3" y="907.45" width="64.9" height="22.67" fill="#FF4A2F"/>
<rect x="905.2" y="907.45" width="63.8" height="22.67" fill="#FF321F"/>
<rect x="969" y="907.45" width="64.5" height="22.67" fill="#FF321F"/>
<rect x="791" y="930.12" width="20" height="24.07" fill="#FF7AE6"/>
<rect x="815" y="930.12" width="20" height="24.07" fill="#FF8C84"/>
<rect x="840.3" y="930.12" width="64.9" height="24.07" fill="#FF4A2F"/>
<rect x="905.2" y="930.12" width="63.8" height="24.07" fill="#FF321F"/>
<rect x="969" y="930.12" width="64.5" height="24.07" fill="#FF321F"/>
<rect x="791" y="954.19" width="20" height="24.07" fill="#FF7AE6"/>
<rect x="815" y="954.19" width="20" height="24.07" fill="#10D040"/>
<rect x="840.3" y="954.19" width="64.9" height="24.07" fill="#FFDA89"/>
<rect x="905.2" y="954.19" width="63.8" height="24.07" fill="#FFA462"/>
<rect x="969" y="954.19" width="64.5" height="24.07" fill="#FFAB65"/>
<rect x="791" y="978.26" width="20" height="24.07" fill="#FF88FF"/>
<rect x="815" y="978.26" width="20" height="24.07" fill="#FF8C84"/>
<rect x="840.3" y="978.26" width="64.9" height="24.07" fill="#FFF1A6"/>
<rect x="905.2" y="978.26" width="63.8" height="24.07" fill="#FFCF7D"/>
<rect x="969" y="978.26" width="64.5" height="24.07" fill="#FFCF7D"/>
<rect x="791" y="1002.33" width="20" height="24.07" fill="#FF88FF"/>
<rect x="815" y="1002.33" width="20" height="24.07" fill="#FF8C84"/>
<rect x="840.3" y="1002.33" width="64.9" height="24.07" fill="#FF8C52"/>
<rect x="905.2" y="1002.33" width="63.8" height="24.07" fill="#FF7443"/>
<rect x="969" y="1002.33" width="64.5" height="24.07" fill="#FF7443"/>
<rect x="791" y="1026.4" width="20" height="24.07" fill="#FF88FF"/>
<rect x="815" y="1026.4" width="20" height="24.07" fill="#FF8C84"/>
<rect x="840.3" y="1026.4" width="64.9" height="24.07" fill="#FF633C"/>
<rect x="905.2" y="1026.4" width="63.8" height="24.07" fill="#FF3E27"/>
<rect x="969" y="1026.4" width="64.5" height="24.07" fill="#FF3E27"/>
<rect x="791" y="1050.47" width="20" height="24.07" fill="#FF88FF"/>
<rect x="815" y="1050.47" width="20" height="24.07" fill="#FF8C84"/>
<rect x="840.3" y="1050.47" width="64.9" height="24.07" fill="#FF5F3A"/>
<rect x="905.2" y="1050.47" width="63.8" height="24.07" fill="#FF4A2F"/>
<rect x="969" y="1050.47" width="64.5" height="24.07" fill="#FF3E27"/>
<rect x="791" y="1074.54" width="20" height="24.07" fill="#FF88FF"/>
<rect x="815" y="1074.54" width="20" height="24.07" fill="#FF8C84"/>
<rect x="840.3" y="1074.54" width="64.9" height="24.07" fill="#FF5F3A"/>
<rect x="905.2" y="1074.54" width="63.8" height="24.07" fill="#FF3E27"/>
<rect x="969" y="1074.54" width="64.5" height="24.07" fill="#FF3E27"/>
<rect x="791" y="1098.61" width="20" height="24.07" fill="#FF88FF"/>
<rect x="815" y="1098.61" width="20" height="24.07" fill="#FF8C84"/>
<rect x="840.3" y="1098.61" width="64.9" height="24.07" fill="#FFE898"/>
<rect x="905.2" y="1098.61" width="63.8" height="24.07" fill="#FFCF7D"/>
<rect x="969" y="1098.61" width="64.5" height="24.07" fill="#FFCF7D"/>
<rect x="791" y="1122.68" width="20" height="24.07" fill="#FF88FF"/>
<rect x="815" y="1122.68" width="20" height="24.07" fill="#FF8C84"/>
<rect x="840.3" y="1122.68" width="64.9" height="24.07" fill="#FF8C52"/>
<rect x="905.2" y="1122.68" width="63.8" height="24.07" fill="#FF7443"/>
<rect x="969" y="1122.68" width="64.5" height="24.07" fill="#FF7443"/>
<rect x="791" y="1146.75" width="20" height="24.07" fill="#FF88FF"/>
<rect x="815" y="1146.75" width="20" height="24.07" fill="#FF8C84"/>
<rect x="840.3" y="1146.75" width="64.9" height="24.07" fill="#DDF2F4"/>
<rect x="905.2" y="1146.75" width="63.8" height="24.07" fill="#FFED9F"/>
<rect x="969" y="1146.75" width="64.5" height="24.07" fill="#FFEA9B"/>
<rect x="791" y="1170.82" width="20" height="24.07" fill="#FF88FF"/>
<rect x="815" y="1170.82" width="20" height="24.07" fill="#FF8C84"/>
<rect x="840.3" y="1170.82" width="64.9" height="24.07" fill="#FF985B"/>
<rect x="905.2" y="1170.82" width="63.8" height="24.07" fill="#FF804A"/>
<rect x="969" y="1170.82" width="64.5" height="24.07" fill="#FF804A"/>
<rect x="791" y="1194.89" width="20" height="24.07" fill="#FF88FF"/>
<rect x="815" y="1194.89" width="20" height="24.07" fill="#FF8C84"/>
<rect x="840.3" y="1194.89" width="64.9" height="24.07" fill="#FF7041"/>
<rect x="905.2" y="1194.89" width="63.8" height="24.07" fill="#FF4E32"/>
<rect x="969" y="1194.89" width="64.5" height="24.07" fill="#FF462D"/>
<rect x="791" y="1218.96" width="20" height="24.07" fill="#00D890"/>
<rect x="815" y="1218.96" width="20" height="24.07" fill="#FF8C84"/>
<rect x="840.3" y="1218.96" width="64.9" height="24.07" fill="#FFB269"/>
<rect x="905.2" y="1218.96" width="63.8" height="24.07" fill="#FF804A"/>
<rect x="969" y="1218.96" width="64.5" height="24.07" fill="#FF804A"/>
<rect x="791" y="1243.03" width="20" height="24.07" fill="#00D890"/>
<rect x="815" y="1243.03" width="20" height="24.07" fill="#FF8C84"/>
<rect x="840.3" y="1243.03" width="64.9" height="24.07" fill="#FF633C"/>
<rect x="905.2" y="1243.03" width="63.8" height="24.07" fill="#FF4E32"/>
<rect x="969" y="1243.03" width="64.5" height="24.07" fill="#FF5234"/>
<rect x="791" y="1267.1" width="20" height="24.07" fill="#00D890"/>
<rect x="815" y="1267.1" width="20" height="24.07" fill="#FF8C84"/>
<rect x="840.3" y="1267.1" width="64.9" height="24.07" fill="#FF6B3F"/>
<rect x="905.2" y="1267.1" width="63.8" height="24.07" fill="#FF5636"/>
<rect x="969" y="1267.1" width="64.5" height="24.07" fill="#FF5B38"/>
<rect x="791" y="1291.17" width="20" height="24.07" fill="#00D890"/>
<rect x="815" y="1291.17" width="20" height="24.07" fill="#FF8C84"/>
<rect x="840.3" y="1291.17" width="64.9" height="24.07" fill="#FF5234"/>
<rect x="905.2" y="1291.17" width="63.8" height="24.07" fill="#FF3E27"/>
<rect x="969" y="1291.17" width="64.5" height="24.07" fill="#FF321F"/>
<rect x="791" y="1315.24" width="20" height="24.07" fill="#00D890"/>
<rect x="815" y="1315.24" width="20" height="24.07" fill="#FF8C84"/>
<rect x="840.3" y="1315.24" width="64.9" height="24.07" fill="#FFE898"/>
<rect x="905.2" y="1315.24" width="63.8" height="24.07" fill="#FFB269"/>
<rect x="969" y="1315.24" width="64.5" height="24.07" fill="#FFB269"/>
<rect x="791" y="1339.31" width="20" height="24.07" fill="#00D890"/>
<rect x="815" y="1339.31" width="20" height="24.07" fill="#FF8C84"/>
<rect x="840.3" y="1339.31" width="64.9" height="24.07" fill="#FFB269"/>
<rect x="905.2" y="1339.31" width="63.8" height="24.07" fill="#FF8850"/>
<rect x="969" y="1339.31" width="64.5" height="24.07" fill="#FF804A"/>
<rect x="791" y="1363.38" width="20" height="24.07" fill="#E4B800"/>
<rect x="815" y="1363.38" width="20" height="24.07" fill="#FF8C84"/>
<rect x="840.3" y="1363.38" width="64.9" height="24.07" fill="#FF804A"/>
<rect x="905.2" y="1363.38" width="63.8" height="24.07" fill="#FF5F3A"/>
<rect x="969" y="1363.38" width="64.5" height="24.07" fill="#FF5F3A"/>
<rect x="791" y="1387.45" width="20" height="24.07" fill="#E4B800"/>
<rect x="815" y="1387.45" width="20" height="24.07" fill="#FF8C84"/>
<rect x="840.3" y="1387.45" width="64.9" height="24.07" fill="#FFA462"/>
<rect x="905.2" y="1387.45" width="63.8" height="24.07" fill="#FF7C48"/>
<rect x="969" y="1387.45" width="64.5" height="24.07" fill="#FF7C48"/>
<rect x="791" y="1411.52" width="20" height="24.07" fill="#E4B800"/>
<rect x="815" y="1411.52" width="20" height="24.07" fill="#FF8C84"/>
<rect x="840.3" y="1411.52" width="64.9" height="24.07" fill="#FFEFA2"/>
<rect x="905.2" y="1411.52" width="63.8" height="24.07" fill="#FFCB7A"/>
<rect x="969" y="1411.52" width="64.5" height="24.07" fill="#FFCB7A"/>
<rect x="791" y="1435.59" width="20" height="24.07" fill="#FF88B0"/>
<rect x="815" y="1435.59" width="20" height="24.07" fill="#FF8C84"/>
<rect x="840.3" y="1435.59" width="64.9" height="24.07" fill="#FF5234"/>
<rect x="905.2" y="1435.59" width="63.8" height="24.07" fill="#FF3E27"/>
<rect x="969" y="1435.59" width="64.5" height="24.07" fill="#FF3E27"/>
<rect x="791" y="1459.66" width="20" height="24.07" fill="#FF9A5A"/>
<rect x="815" y="1459.66" width="20" height="24.07" fill="#FF8C84"/>
<rect x="840.3" y="1459.66" width="64.9" height="24.07" fill="#FFCB7A"/>
<rect x="905.2" y="1459.66" width="63.8" height="24.07" fill="#FF804A"/>
<rect x="969" y="1459.66" width="64.5" height="24.07" fill="#FF7845"/>
<rect x="791" y="1483.73" width="20" height="22.47" fill="#00CCFF"/>
<rect x="815" y="1483.73" width="20" height="22.47" fill="#FFA80A"/>
<rect x="840.3" y="1483.73" width="64.9" height="22.47" fill="#88C2DF"/>
<rect x="905.2" y="1483.73" width="63.8" height="22.47" fill="#FFF1A6"/>
<rect x="969" y="1483.73" width="64.5" height="22.47" fill="#FFF1A6"/>
<rect x="791" y="1506.2" width="20" height="24.37" fill="#00D870"/>
<rect x="815" y="1506.2" width="20" height="24.37" fill="#FFA80A"/>
<rect x="840.3" y="1506.2" width="64.9" height="24.37" fill="#FFCF7D"/>
<rect x="905.2" y="1506.2" width="63.8" height="24.37" fill="#FF9055"/>
<rect x="969" y="1506.2" width="64.5" height="24.37" fill="#FF9055"/>
<rect x="791" y="1530.57" width="20" height="25.37" fill="#00D870"/>
<rect x="815" y="1530.57" width="20" height="25.37" fill="#FFA80A"/>
<rect x="840.3" y="1530.57" width="64.9" height="25.37" fill="#FFA764"/>
<rect x="905.2" y="1530.57" width="63.8" height="25.37" fill="#FF9055"/>
<rect x="969" y="1530.57" width="64.5" height="25.37" fill="#FF9055"/>
<rect x="791" y="1555.94" width="20" height="24.07" fill="#8CB0FF"/>
<rect x="815" y="1555.94" width="20" height="24.07" fill="#FFA80A"/>
<rect x="840.3" y="1555.94" width="64.9" height="24.07" fill="#FF7C48"/>
<rect x="905.2" y="1555.94" width="63.8" height="24.07" fill="#FF5636"/>
<rect x="969" y="1555.94" width="64.5" height="24.07" fill="#FF4E32"/>
<rect x="791" y="1580.01" width="20" height="24.07" fill="#00D8D0"/>
<rect x="815" y="1580.01" width="20" height="24.07" fill="#FFA80A"/>
<rect x="840.3" y="1580.01" width="64.9" height="24.07" fill="#AAD8EA"/>
<rect x="905.2" y="1580.01" width="63.8" height="24.07" fill="#FFED9F"/>
<rect x="969" y="1580.01" width="64.5" height="24.07" fill="#FFE494"/>
<rect x="791" y="1604.08" width="20" height="24.07" fill="#00D8D0"/>
<rect x="815" y="1604.08" width="20" height="24.07" fill="#FFA80A"/>
<rect x="840.3" y="1604.08" width="64.9" height="24.07" fill="#8DC4E0"/>
<rect x="905.2" y="1604.08" width="63.8" height="24.07" fill="#FFF8B0"/>
<rect x="969" y="1604.08" width="64.5" height="24.07" fill="#FFEA9B"/>
<rect x="791" y="1628.15" width="20" height="24.07" fill="#00D8D0"/>
<rect x="815" y="1628.15" width="20" height="24.07" fill="#FFA80A"/>
<rect x="840.3" y="1628.15" width="64.9" height="24.07" fill="#4C94C8"/>
<rect x="905.2" y="1628.15" width="63.8" height="24.07" fill="#FFFDB7"/>
<rect x="969" y="1628.15" width="64.5" height="24.07" fill="#FFF1A6"/>
<rect x="791" y="1652.22" width="20" height="24.07" fill="#00BFFF"/>
<rect x="815" y="1652.22" width="20" height="24.07" fill="#FFA80A"/>
<rect x="840.3" y="1652.22" width="64.9" height="24.07" fill="#FFEA9B"/>
<rect x="905.2" y="1652.22" width="63.8" height="24.07" fill="#FFD685"/>
<rect x="969" y="1652.22" width="64.5" height="24.07" fill="#FFDD8D"/>
<rect x="791" y="1676.29" width="20" height="24.07" fill="#20CC10"/>
<rect x="815" y="1676.29" width="20" height="24.07" fill="#FF80D0"/>
<rect x="840.3" y="1676.29" width="64.9" height="24.07" fill="#FFA462"/>
<rect x="905.2" y="1676.29" width="63.8" height="24.07" fill="#FF7845"/>
<rect x="969" y="1676.29" width="64.5" height="24.07" fill="#FF7041"/>
<rect x="791" y="1700.36" width="20" height="24.07" fill="#20CC10"/>
<rect x="815" y="1700.36" width="20" height="24.07" fill="#FF80D0"/>
<rect x="840.3" y="1700.36" width="64.9" height="24.07" fill="#F8FCC7"/>
<rect x="905.2" y="1700.36" width="63.8" height="24.07" fill="#FFCF7D"/>
<rect x="969" y="1700.36" width="64.5" height="24.07" fill="#FFB96D"/>
<rect x="791" y="1724.43" width="20" height="24.07" fill="#20CC10"/>
<rect x="815" y="1724.43" width="20" height="24.07" fill="#FF80D0"/>
<rect x="840.3" y="1724.43" width="64.9" height="24.07" fill="#FFEA9B"/>
<rect x="905.2" y="1724.43" width="63.8" height="24.07" fill="#FFB96D"/>
<rect x="969" y="1724.43" width="64.5" height="24.07" fill="#FFB269"/>
<rect x="791" y="1748.5" width="20" height="24.07" fill="#88C800"/>
<rect x="815" y="1748.5" width="20" height="24.07" fill="#FF80D0"/>
<rect x="840.3" y="1748.5" width="64.9" height="24.07" fill="#A6D5E9"/>
<rect x="905.2" y="1748.5" width="63.8" height="24.07" fill="#E6F5E7"/>
<rect x="969" y="1748.5" width="64.5" height="24.07" fill="#EEF8DA"/>
<rect x="791" y="1772.57" width="20" height="24.07" fill="#D0A0FF"/>
<rect x="815" y="1772.57" width="20" height="24.07" fill="#FF80D0"/>
<rect x="840.3" y="1772.57" width="64.9" height="24.07" fill="#FF804A"/>
<rect x="905.2" y="1772.57" width="63.8" height="24.07" fill="#FF5B38"/>
<rect x="969" y="1772.57" width="64.5" height="24.07" fill="#FF5B38"/>
<rect x="791" y="1796.64" width="20" height="24.07" fill="#FF88FF"/>
<rect x="815" y="1796.64" width="20" height="24.07" fill="#FF80D0"/>
<rect x="840.3" y="1796.64" width="64.9" height="24.07" fill="#E7F6E4"/>
<rect x="905.2" y="1796.64" width="63.8" height="24.07" fill="#FFEFA2"/>
<rect x="969" y="1796.64" width="64.5" height="24.07" fill="#FFE898"/>
</g>
<path d="M840.3 64.3H1033.5 M840.3 88.87H1033.5 M840.3 113.54H1033.5 M840.3 135.81H1033.5 M840.3 159.88H1033.5 M840.3 183.95H1033.5 M840.3 208.02H1033.5 M840.3 232.09H1033.5 M840.3 256.16H1033.5 M840.3 280.23H1033.5 M840.3 305.9H1033.5 M840.3 328.37H1033.5 M840.3 352.44H1033.5 M840.3 376.51H1033.5 M840.3 401.88H1033.5 M840.3 424.65H1033.5 M840.3 448.72H1033.5 M840.3 472.79H1033.5 M840.3 496.86H1033.5 M840.3 520.93H1033.5 M840.3 545H1033.5 M840.3 569.07H1033.5 M840.3 594.54H1033.5 M840.3 617.21H1033.5 M840.3 641.28H1033.5 M840.3 665.35H1033.5 M840.3 690.42H1033.5 M840.3 713.49H1033.5 M840.3 737.56H1033.5 M840.3 761.63H1033.5 M840.3 785.7H1033.5 M840.3 809.77H1033.5 M840.3 833.84H1033.5 M840.3 857.91H1033.5 M840.3 881.98H1033.5 M840.3 907.45H1033.5 M840.3 930.12H1033.5 M840.3 954.19H1033.5 M840.3 978.26H1033.5 M840.3 1002.33H1033.5 M840.3 1026.4H1033.5 M840.3 1050.47H1033.5 M840.3 1074.54H1033.5 M840.3 1098.61H1033.5 M840.3 1122.68H1033.5 M840.3 1146.75H1033.5 M840.3 1170.82H1033.5 M840.3 1194.89H1033.5 M840.3 1218.96H1033.5 M840.3 1243.03H1033.5 M840.3 1267.1H1033.5 M840.3 1291.17H1033.5 M840.3 1315.24H1033.5 M840.3 1339.31H1033.5 M840.3 1363.38H1033.5 M840.3 1387.45H1033.5 M840.3 1411.52H1033.5 M840.3 1435.59H1033.5 M840.3 1459.66H1033.5 M840.3 1483.73H1033.5 M840.3 1506.2H1033.5 M840.3 1530.57H1033.5 M840.3 1555.94H1033.5 M840.3 1580.01H1033.5 M840.3 1604.08H1033.5 M840.3 1628.15H1033.5 M840.3 1652.22H1033.5 M840.3 1676.29H1033.5 M840.3 1700.36H1033.5 M840.3 1724.43H1033.5 M840.3 1748.5H1033.5 M840.3 1772.57H1033.5 M840.3 1796.64H1033.5 M840.3 1820.71H1033.5 M840.3 64.3V1820.71 M905.2 64.3V1820.71 M969 64.3V1820.71 M1033.5 64.3V1820.71" stroke="#9C9C9C" stroke-width="1.7" fill="none"/>
<path d="M791 64.3H811 M815 64.3H835 M791 88.87H811 M815 88.87H835 M791 113.54H811 M815 113.54H835 M791 135.81H811 M815 135.81H835 M791 159.88H811 M815 159.88H835 M791 183.95H811 M815 183.95H835 M791 208.02H811 M815 208.02H835 M791 232.09H811 M815 232.09H835 M791 256.16H811 M815 256.16H835 M791 280.23H811 M815 280.23H835 M791 305.9H811 M815 305.9H835 M791 328.37H811 M815 328.37H835 M791 352.44H811 M815 352.44H835 M791 376.51H811 M815 376.51H835 M791 401.88H811 M815 401.88H835 M791 424.65H811 M815 424.65H835 M791 448.72H811 M815 448.72H835 M791 472.79H811 M815 472.79H835 M791 496.86H811 M815 496.86H835 M791 520.93H811 M815 520.93H835 M791 545H811 M815 545H835 M791 569.07H811 M815 569.07H835 M791 594.54H811 M815 594.54H835 M791 617.21H811 M815 617.21H835 M791 641.28H811 M815 641.28H835 M791 665.35H811 M815 665.35H835 M791 690.42H811 M815 690.42H835 M791 713.49H811 M815 713.49H835 M791 737.56H811 M815 737.56H835 M791 761.63H811 M815 761.63H835 M791 785.7H811 M815 785.7H835 M791 809.77H811 M815 809.77H835 M791 833.84H811 M815 833.84H835 M791 857.91H811 M815 857.91H835 M791 881.98H811 M815 881.98H835 M791 907.45H811 M815 907.45H835 M791 930.12H811 M815 930.12H835 M791 954.19H811 M815 954.19H835 M791 978.26H811 M815 978.26H835 M791 1002.33H811 M815 1002.33H835 M791 1026.4H811 M815 1026.4H835 M791 1050.47H811 M815 1050.47H835 M791 1074.54H811 M815 1074.54H835 M791 1098.61H811 M815 1098.61H835 M791 1122.68H811 M815 1122.68H835 M791 1146.75H811 M815 1146.75H835 M791 1170.82H811 M815 1170.82H835 M791 1194.89H811 M815 1194.89H835 M791 1218.96H811 M815 1218.96H835 M791 1243.03H811 M815 1243.03H835 M791 1267.1H811 M815 1267.1H835 M791 1291.17H811 M815 1291.17H835 M791 1315.24H811 M815 1315.24H835 M791 1339.31H811 M815 1339.31H835 M791 1363.38H811 M815 1363.38H835 M791 1387.45H811 M815 1387.45H835 M791 1411.52H811 M815 1411.52H835 M791 1435.59H811 M815 1435.59H835 M791 1459.66H811 M815 1459.66H835 M791 1483.73H811 M815 1483.73H835 M791 1506.2H811 M815 1506.2H835 M791 1530.57H811 M815 1530.57H835 M791 1555.94H811 M815 1555.94H835 M791 1580.01H811 M815 1580.01H835 M791 1604.08H811 M815 1604.08H835 M791 1628.15H811 M815 1628.15H835 M791 1652.22H811 M815 1652.22H835 M791 1676.29H811 M815 1676.29H835 M791 1700.36H811 M815 1700.36H835 M791 1724.43H811 M815 1724.43H835 M791 1748.5H811 M815 1748.5H835 M791 1772.57H811 M815 1772.57H835 M791 1796.64H811 M815 1796.64H835 M791 1820.71H811 M815 1820.71H835 M791 64.3V1820.71 M811 64.3V1820.71 M815 64.3V1820.71 M835 64.3V1820.71" stroke="#9C9C9C" stroke-width="1.2" fill="none"/>
<line x1="122.5" y1="715.3" x2="1081" y2="715.3" stroke="#000" stroke-width="2.8" stroke-linecap="round"/>
<text transform="translate(1052.6,323.8) rotate(90)" font-size="30.6" font-weight="bold" textLength="143.5" lengthAdjust="spacingAndGlyphs">FF/MF&lt;BF</text>
<text transform="translate(1052.6,1180.4) rotate(90)" font-size="30.6" font-weight="bold" textLength="144.4" lengthAdjust="spacingAndGlyphs">FF/MF&gt;BF</text>
<text transform="translate(791,1832) rotate(90)" font-size="20.2" font-weight="bold" textLength="139" lengthAdjust="spacingAndGlyphs">Subclass</text>
<text transform="translate(814,1832) rotate(90)" font-size="21" font-weight="bold" textLength="170" lengthAdjust="spacingAndGlyphs">Superclass</text>
<text transform="translate(861.6,1829.5) rotate(90)" font-size="23" textLength="39.5" lengthAdjust="spacingAndGlyphs">BF</text>
<text transform="translate(926.2,1829.5) rotate(90)" font-size="23" textLength="44.5" lengthAdjust="spacingAndGlyphs">MF</text>
<text transform="translate(991.2,1829.5) rotate(90)" font-size="23" textLength="37.5" lengthAdjust="spacingAndGlyphs">FF</text>
<text x="1118" y="24.4" font-size="18" font-weight="bold" textLength="24" lengthAdjust="spacingAndGlyphs">RA</text>
<defs><linearGradient id="cb" x1="0" y1="0" x2="0" y2="1"><stop offset="0.0000" stop-color="#FF2A1A"/><stop offset="0.0694" stop-color="#FF4E32"/><stop offset="0.1520" stop-color="#FF7845"/><stop offset="0.2345" stop-color="#FFA060"/><stop offset="0.3170" stop-color="#FFC472"/><stop offset="0.3995" stop-color="#FFE898"/><stop offset="0.4821" stop-color="#FFFFBA"/><stop offset="0.5646" stop-color="#EEF8DA"/><stop offset="0.6471" stop-color="#DDF2F4"/><stop offset="0.7297" stop-color="#AAD8EA"/><stop offset="0.8122" stop-color="#80BCDC"/><stop offset="0.8947" stop-color="#4C94C8"/><stop offset="1.0000" stop-color="#1A68B0"/></linearGradient></defs>
<rect x="1122.8" y="35.5" width="12" height="175.7" fill="url(#cb)"/>
<text x="1139.5" y="66.8" font-size="13" fill="#555" textLength="10.5" lengthAdjust="spacingAndGlyphs">-6</text>
<text x="1139.5" y="95.8" font-size="13" fill="#555" textLength="10.5" lengthAdjust="spacingAndGlyphs">-8</text>
<text x="1139.5" y="124.8" font-size="13" fill="#555" textLength="16.8" lengthAdjust="spacingAndGlyphs">-10</text>
<text x="1139.5" y="153.8" font-size="13" fill="#555" textLength="16.8" lengthAdjust="spacingAndGlyphs">-12</text>
<text x="1139.5" y="182.8" font-size="13" fill="#555" textLength="16.8" lengthAdjust="spacingAndGlyphs">-14</text>
<text x="1139.5" y="211.8" font-size="13" fill="#555" textLength="16.8" lengthAdjust="spacingAndGlyphs">-16</text>
<text x="1149" y="39.8" font-size="17" font-weight="bold" textLength="68.5" lengthAdjust="spacingAndGlyphs">Subclass</text>
<rect x="1160" y="50.7" width="20" height="19.45" fill="#FF98FF"/>
<text x="1190.4" y="62.43" font-size="14.2" fill="#2a2a2a" stroke="#2a2a2a" stroke-width="0.25" textLength="121.07" lengthAdjust="spacingAndGlyphs">Amino Acid Biosyn</text>
<rect x="1160" y="70.15" width="20" height="19.45" fill="#00CCFF"/>
<text x="1190.4" y="81.88" font-size="14.2" fill="#2a2a2a" stroke="#2a2a2a" stroke-width="0.25" textLength="103.87" lengthAdjust="spacingAndGlyphs">Amino Acid Deg</text>
<rect x="1160" y="89.6" width="20" height="19.45" fill="#00C0FF"/>
<text x="1190.4" y="101.32" font-size="14.2" fill="#2a2a2a" stroke="#2a2a2a" stroke-width="0.25" textLength="273.8" lengthAdjust="spacingAndGlyphs">C1 Compound Utilization and Assimilation</text>
<rect x="1160" y="109.05" width="20" height="19.45" fill="#E6BA00"/>
<text x="1190.4" y="120.77" font-size="14.2" fill="#2a2a2a" stroke="#2a2a2a" stroke-width="0.25" textLength="134.99" lengthAdjust="spacingAndGlyphs">Carbohydrate Biosyn</text>
<rect x="1160" y="128.5" width="20" height="19.45" fill="#00D870"/>
<text x="1190.4" y="140.22" font-size="14.2" fill="#2a2a2a" stroke="#2a2a2a" stroke-width="0.25" textLength="117.79" lengthAdjust="spacingAndGlyphs">Carbohydrate Deg</text>
<rect x="1160" y="147.95" width="20" height="19.45" fill="#8CB0FF"/>
<text x="1190.4" y="159.67" font-size="14.2" fill="#2a2a2a" stroke="#2a2a2a" stroke-width="0.25" textLength="264.36" lengthAdjust="spacingAndGlyphs">Carbohydrate/Polymeric Compound Deg</text>
<rect x="1160" y="167.4" width="20" height="19.45" fill="#FF7AE6"/>
<text x="1190.4" y="179.12" font-size="14.2" fill="#2a2a2a" stroke="#2a2a2a" stroke-width="0.25" textLength="134.89" lengthAdjust="spacingAndGlyphs">Cell Structure Biosyn</text>
<rect x="1160" y="186.85" width="20" height="19.45" fill="#FFB000"/>
<text x="1190.4" y="198.58" font-size="14.2" fill="#2a2a2a" stroke="#2a2a2a" stroke-width="0.25" textLength="235.64" lengthAdjust="spacingAndGlyphs">Cofactor, Carrier and Vitamin Biosyn</text>
<rect x="1160" y="206.3" width="20" height="19.45" fill="#FF80F8"/>
<text x="1190.4" y="218.03" font-size="14.2" fill="#2a2a2a" stroke="#2a2a2a" stroke-width="0.25" textLength="172.97" lengthAdjust="spacingAndGlyphs">Fatty Acid and Lipid biosyn</text>
<rect x="1160" y="225.75" width="20" height="19.45" fill="#10D0B0"/>
<text x="1190.4" y="237.47" font-size="14.2" fill="#2a2a2a" stroke="#2a2a2a" stroke-width="0.25" textLength="268.04" lengthAdjust="spacingAndGlyphs">Fatty Acid and Lipid/Cell Structure Biosyn</text>
<rect x="1160" y="245.2" width="20" height="19.45" fill="#20C410"/>
<text x="1190.4" y="256.92" font-size="14.2" fill="#2a2a2a" stroke="#2a2a2a" stroke-width="0.25" textLength="88.65" lengthAdjust="spacingAndGlyphs">Fermentation</text>
<rect x="1160" y="264.65" width="20" height="19.45" fill="#00D8F8"/>
<text x="1190.4" y="276.38" font-size="14.2" fill="#2a2a2a" stroke="#2a2a2a" stroke-width="0.25" textLength="200.99" lengthAdjust="spacingAndGlyphs">Inorganic Nutrient Metabolism</text>
<rect x="1160" y="284.1" width="20" height="19.45" fill="#10D08C"/>
<text x="1190.4" y="295.82" font-size="14.2" fill="#2a2a2a" stroke="#2a2a2a" stroke-width="0.25" textLength="221.86" lengthAdjust="spacingAndGlyphs">Nucleoside and Nucleotide Biosyn</text>
<rect x="1160" y="303.55" width="20" height="19.45" fill="#10D8C8"/>
<text x="1190.4" y="315.28" font-size="14.2" fill="#2a2a2a" stroke="#2a2a2a" stroke-width="0.25" textLength="204.66" lengthAdjust="spacingAndGlyphs">Nucleoside and Nucleotide Deg</text>
<rect x="1160" y="323" width="20" height="19.45" fill="#D0A8FF"/>
<text x="1190.4" y="334.73" font-size="14.2" fill="#2a2a2a" stroke="#2a2a2a" stroke-width="0.25" textLength="190.35" lengthAdjust="spacingAndGlyphs">Pentose Phosphate Pathways</text>
<rect x="1160" y="342.45" width="20" height="19.45" fill="#FF80A8"/>
<text x="1190.4" y="354.18" font-size="14.2" fill="#2a2a2a" stroke="#2a2a2a" stroke-width="0.25" textLength="190.32" lengthAdjust="spacingAndGlyphs">Secondary Metabolite Biosyn</text>
<rect x="1160" y="361.9" width="20" height="19.45" fill="#88C818"/>
<text x="1190.4" y="373.62" font-size="14.2" fill="#2a2a2a" stroke="#2a2a2a" stroke-width="0.25" textLength="61.46" lengthAdjust="spacingAndGlyphs">TCA cycle</text>
<rect x="1160" y="381.35" width="20" height="19.45" fill="#FF9060"/>
<text x="1190.4" y="393.07" font-size="14.2" fill="#2a2a2a" stroke="#2a2a2a" stroke-width="0.25" textLength="44.16" lengthAdjust="spacingAndGlyphs">Others</text>
<rect x="1160" y="400.8" width="20" height="19.45" fill="#FF80F8"/>
<text x="1190.4" y="412.52" font-size="14.2" fill="#2a2a2a" stroke="#2a2a2a" stroke-width="0.25" textLength="86.95" lengthAdjust="spacingAndGlyphs">Not Available</text>
<text x="1149" y="484" font-size="17" font-weight="bold" textLength="85.5" lengthAdjust="spacingAndGlyphs">Superclass</text>
<rect x="1160" y="492" width="20" height="20.05" fill="#FF8A85"/>
<text x="1190.6" y="504.22" font-size="13.2" fill="#2a2a2a" stroke="#2a2a2a" stroke-width="0.25" textLength="75.19" lengthAdjust="spacingAndGlyphs">Biosynthesis</text>
<rect x="1160" y="512.05" width="20" height="20.05" fill="#10D040"/>
<text x="1190.6" y="524.27" font-size="13.2" fill="#2a2a2a" stroke="#2a2a2a" stroke-width="0.25" textLength="165.38" lengthAdjust="spacingAndGlyphs">Biosynthesis/Detoxification</text>
<rect x="1160" y="532.1" width="20" height="20.05" fill="#FFA010"/>
<text x="1190.6" y="544.33" font-size="13.2" fill="#2a2a2a" stroke="#2a2a2a" stroke-width="0.25" textLength="27.2" lengthAdjust="spacingAndGlyphs">DUA</text>
<rect x="1160" y="552.15" width="20" height="20.05" fill="#FF80D0"/>
<text x="1190.6" y="564.38" font-size="13.2" fill="#2a2a2a" stroke="#2a2a2a" stroke-width="0.25" textLength="37.36" lengthAdjust="spacingAndGlyphs">GPME</text>
<rect x="1160" y="572.2" width="20" height="20.05" fill="#C0B800"/>
<text x="1190.6" y="584.43" font-size="13.2" fill="#2a2a2a" stroke="#2a2a2a" stroke-width="0.25" textLength="93.06" lengthAdjust="spacingAndGlyphs">Superpathways</text>
<rect x="1160" y="592.25" width="20" height="20.05" fill="#00DDF0"/>
<text x="1190.6" y="604.48" font-size="13.2" fill="#2a2a2a" stroke="#2a2a2a" stroke-width="0.25" textLength="58.28" lengthAdjust="spacingAndGlyphs">Transport</text>
</svg></body></html>
